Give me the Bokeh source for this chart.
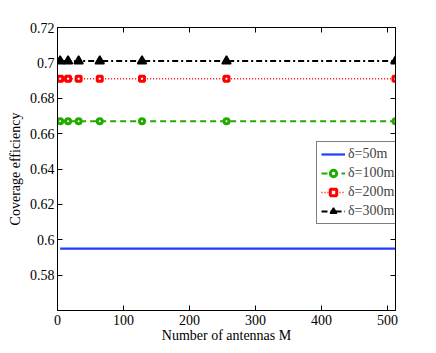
from bokeh.plotting import figure
from bokeh.models import Range1d, LinearAxis, FixedTicker, Legend
from bokeh.embed import file_html
from bokeh.resources import INLINE

antennas = [4, 16, 32, 64, 128, 256, 512]
eff_50 = [0.595, 0.595, 0.595, 0.595, 0.595, 0.595, 0.595]
eff_100 = [0.667, 0.667, 0.667, 0.667, 0.667, 0.667, 0.667]
eff_200 = [0.691, 0.691, 0.691, 0.691, 0.691, 0.691, 0.691]
eff_300 = [0.701, 0.701, 0.701, 0.701, 0.701, 0.701, 0.701]
labels = ["δ=50m", "δ=100m", "δ=200m", "δ=300m"]
x_ticks = [0, 100, 200, 300, 400, 500]
y_ticks = [0.58, 0.6, 0.62, 0.64, 0.66, 0.68, 0.7, 0.72]
y_tick_labels = ["0.58", "0.6", "0.62", "0.64", "0.66", "0.68", "0.7", "0.72"]

FONT = "Liberation Serif"

p = figure(width=428, height=345, output_backend="svg", toolbar_location=None,
           x_range=Range1d(0, 512), y_range=Range1d(0.56, 0.72),
           min_border_left=57, min_border_right=33, min_border_top=27, min_border_bottom=32)
p.xgrid.visible = False
p.ygrid.visible = False
p.outline_line_color = "black"
p.outline_line_width = 1

def style_axis(ax):
    ax.major_tick_in = 5
    ax.major_tick_out = 0
    ax.minor_tick_in = 0
    ax.minor_tick_out = 0
    ax.axis_line_color = "black"
    ax.major_tick_line_color = "black"
    ax.major_label_text_font = FONT
    ax.major_label_text_font_size = "14px"
    ax.major_label_text_color = "black"
    ax.axis_label_text_font = FONT
    ax.axis_label_text_font_size = "14px"
    ax.axis_label_text_font_style = "normal"
    ax.axis_label_text_color = "black"

xa = p.xaxis[0]
xa.ticker = FixedTicker(ticks=x_ticks)
xa.axis_label = "Number of antennas M"
xa.axis_label_standoff = 0
xa.major_label_standoff = 4
style_axis(xa)

ya = p.yaxis[0]
ya.ticker = FixedTicker(ticks=y_ticks)
ya.major_label_overrides = {t: s for t, s in zip(y_ticks, y_tick_labels)}
ya.axis_label = "Coverage efficiency"
ya.axis_label_standoff = 4
ya.major_label_standoff = 3
style_axis(ya)

top = LinearAxis(ticker=FixedTicker(ticks=x_ticks))
style_axis(top)
top.major_label_overrides = {t: "" for t in x_ticks}
top.major_label_standoff = 0
p.add_layout(top, "above")
right = LinearAxis(ticker=FixedTicker(ticks=y_ticks))
style_axis(right)
right.major_label_overrides = {t: "" for t in y_ticks}
right.major_label_standoff = 0
p.add_layout(right, "right")

r1 = p.line(antennas, eff_50, line_color="#1f3cff", line_width=2.2)

r2 = p.line(antennas, eff_100, line_color="#22aa00", line_width=2, line_dash="6 4")
m2 = p.scatter(antennas, eff_100, marker="circle", size=5, line_color="#22aa00",
               line_width=3, fill_color="white")

r3 = p.line(antennas, eff_200, line_color="#ff0000", line_width=1.5, line_dash="1 2")
m3 = p.scatter(antennas, eff_200, marker="square", size=5, line_color="#ff0000",
               line_width=3, fill_color="white")

r4 = p.line(antennas, eff_300, line_color="black", line_width=2, line_dash="6 3 2 3")
m4 = p.scatter(antennas, eff_300, marker="triangle", size=9, line_color="black",
               line_width=1.5, fill_color="black")

legend = Legend(items=[(labels[0], [r1]), (labels[1], [r2, m2]),
                       (labels[2], [r3, m3]), (labels[3], [r4, m4])],
                location=(259, 86))
legend.label_text_font = FONT
legend.label_text_font_size = "14px"
legend.label_height = 16
legend.glyph_height = 16
legend.glyph_width = 24
legend.label_standoff = 3
legend.spacing = 3
legend.padding = 4
legend.margin = 0
legend.border_line_color = "black"
legend.border_line_width = 1
legend.background_fill_color = "white"
legend.background_fill_alpha = 1
p.add_layout(legend, "center")

open("out.html", "w").write(file_html(p, INLINE))
